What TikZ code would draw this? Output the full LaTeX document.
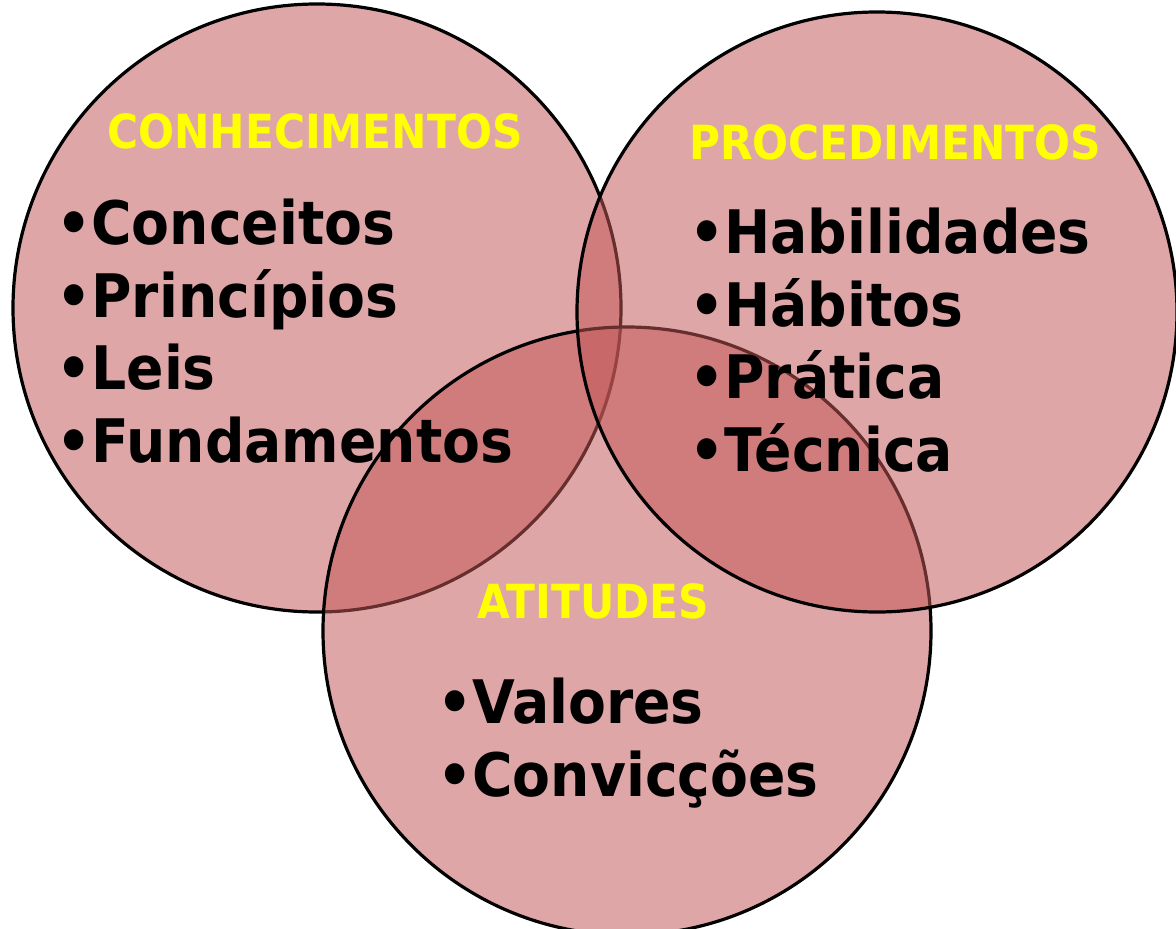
\documentclass[tikz,border=0pt]{standalone}
\usepackage{fontspec}
\newfontfamily\vennfont{DejaVu Sans}[FakeStretch=0.9]
\newfontfamily\listfont{DejaVu Sans}[FakeStretch=0.92]
\usepackage{tikz}
\usetikzlibrary{positioning, shapes.geometric}
\definecolor{vennred}{RGB}{195,87,88}
\definecolor{titleyellow}{RGB}{255,255,0}

\begin{document}
\begin{tikzpicture}[
    x=1pt, y=-1pt,
    every node/.style={
        inner sep=0pt,
        font=\vennfont\bfseries
    },
    set/.style={
        circle,
        draw=black,
        line width=3.2pt,
        fill=vennred,
        fill opacity=0.53,
        text opacity=1
    },
    settitle/.style={
        text=titleyellow,
        font=\vennfont\bfseries\fontsize{47}{56}\selectfont
    },
    setlist/.style={
        anchor=west,
        align=left,
        font=\listfont\bfseries\fontsize{60}{72.5}\selectfont
    }
]
\useasboundingbox (0,0) rectangle (1176,929);

% ======================
% Circles
% ======================
\node[set, minimum size=608pt] (conh_circle) at (317,308) {};
\node[set, minimum size=608pt] (atit_circle) at (627,631) {};
\node[set, minimum size=600pt] (proc_circle) at (877,312) {};

% ======================
% CONHECIMENTOS
% ======================
\node[settitle] (conh_title) at (315,131) {CONHECIMENTOS};
\node[setlist] (conh_list) at (56,331) {\textbullet Conceitos\\ \textbullet Princípios\\ \textbullet Leis\\ \textbullet Fundamentos};

% ======================
% PROCEDIMENTOS
% ======================
\node[settitle] (proc_title) at (895,142) {PROCEDIMENTOS};
\node[setlist] (proc_list) at (689,340) {\textbullet Habilidades\\ \textbullet Hábitos\\ \textbullet Prática\\ \textbullet Técnica};

% ======================
% ATITUDES
% ======================
\node[settitle] (atit_title) at (593,601) {ATITUDES};
\node[setlist] (atit_list) at (437,743) {\textbullet Valores\\ \textbullet Convicções};

\end{tikzpicture}
\end{document}
